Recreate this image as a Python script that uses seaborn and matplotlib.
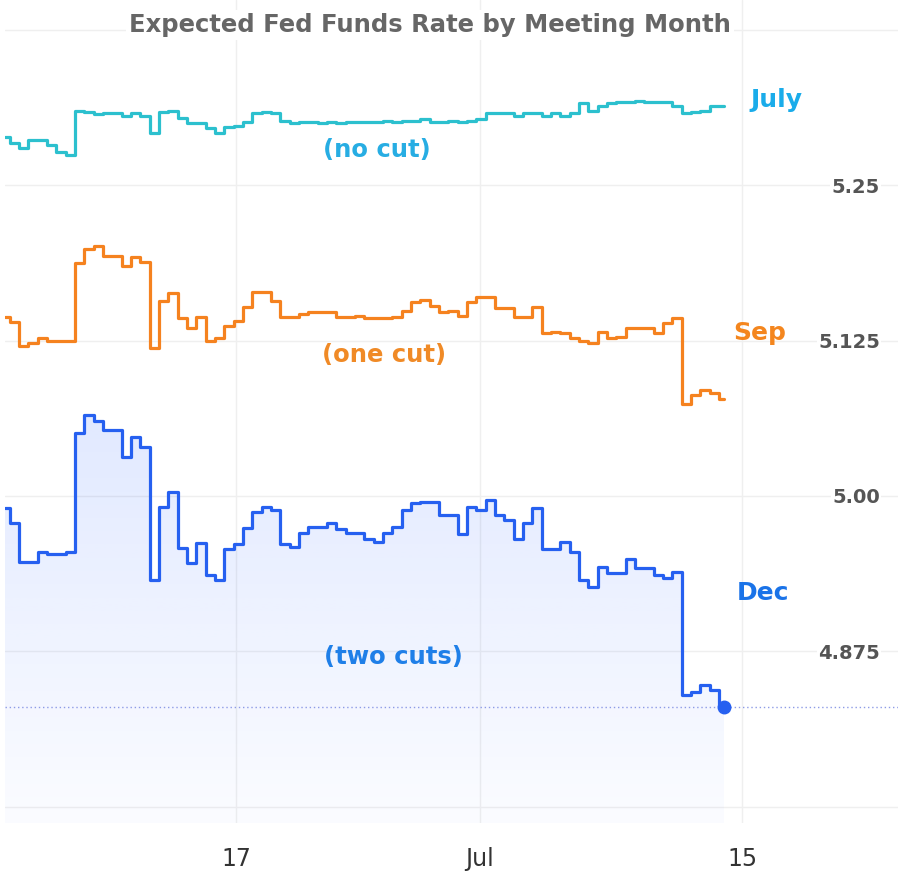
import numpy as np
import pandas as pd
import matplotlib
matplotlib.use("Agg")
import matplotlib.pyplot as plt
import seaborn as sns
from matplotlib.colors import LinearSegmentedColormap

# ---- data: implied rate, three readings per trading session, from Jun 5 ----
july = [5.289, 5.284, 5.280, 5.286, 5.286, 5.282, 5.277, 5.274, 5.310, 5.309,
        5.307, 5.308, 5.308, 5.306, 5.308, 5.306, 5.292, 5.309, 5.310, 5.304,
        5.300, 5.300, 5.296, 5.292, 5.297, 5.298, 5.301, 5.308, 5.309, 5.308,
        5.302, 5.300, 5.301, 5.301, 5.300, 5.301, 5.300, 5.301, 5.301, 5.301,
        5.301, 5.302, 5.301, 5.302, 5.302, 5.303, 5.301, 5.301, 5.302, 5.301,
        5.302, 5.303, 5.308, 5.308, 5.308, 5.306, 5.308, 5.308, 5.306, 5.308,
        5.306, 5.308, 5.316, 5.310, 5.314, 5.316, 5.317, 5.317, 5.318, 5.317,
        5.317, 5.317, 5.314, 5.308, 5.309, 5.310, 5.314, 5.314]
sep = [5.144, 5.140, 5.121, 5.123, 5.127, 5.125, 5.125, 5.125, 5.187, 5.199,
       5.201, 5.193, 5.193, 5.185, 5.192, 5.188, 5.119, 5.157, 5.163, 5.143,
       5.135, 5.144, 5.125, 5.127, 5.137, 5.141, 5.152, 5.164, 5.164, 5.157,
       5.144, 5.144, 5.146, 5.148, 5.148, 5.148, 5.144, 5.144, 5.145, 5.143,
       5.143, 5.143, 5.144, 5.149, 5.156, 5.158, 5.153, 5.148, 5.149, 5.145,
       5.156, 5.160, 5.160, 5.151, 5.151, 5.144, 5.144, 5.152, 5.131, 5.132,
       5.131, 5.127, 5.125, 5.123, 5.132, 5.127, 5.128, 5.135, 5.135, 5.135,
       5.131, 5.139, 5.143, 5.074, 5.081, 5.085, 5.083, 5.078]
dec = [4.990, 4.978, 4.947, 4.947, 4.955, 4.953, 4.953, 4.955, 5.051, 5.065,
       5.060, 5.053, 5.053, 5.031, 5.047, 5.039, 4.932, 4.991, 5.003, 4.958,
       4.946, 4.962, 4.936, 4.932, 4.957, 4.961, 4.974, 4.987, 4.991, 4.989,
       4.961, 4.959, 4.970, 4.975, 4.975, 4.978, 4.973, 4.970, 4.970, 4.965,
       4.963, 4.970, 4.975, 4.989, 4.994, 4.995, 4.995, 4.985, 4.985, 4.969,
       4.991, 4.989, 4.997, 4.985, 4.981, 4.965, 4.978, 4.990, 4.957, 4.957,
       4.963, 4.955, 4.932, 4.927, 4.943, 4.938, 4.938, 4.949, 4.942, 4.942,
       4.936, 4.934, 4.939, 4.840, 4.842, 4.848, 4.844, 4.830]

meetings = ["July", "Sep", "Dec"]
notes = ["(no cut)", "(one cut)", "(two cuts)"]
x_tick_pos = [8.25, 16.96, 26.32]          # trading-day positions
x_tick_labels = ["17", "Jul", "15"]
y_ticks = [4.75, 4.875, 5.0, 5.125, 5.25, 5.375]
y_tick_labels = ["", "4.875", "5.00", "5.125", "5.25", ""]
title = "Expected Fed Funds Rate by Meeting Month"

n = len(dec)
days = np.arange(n) / 3.0
df = pd.DataFrame({
    "day": np.concatenate([days, days, days]),
    "rate": np.concatenate([july, sep, dec]),
    "meeting": ["July"] * n + ["Sep"] * n + ["Dec"] * n,
})

line_colors = {"July": "#2CC0CE", "Sep": "#F5821F", "Dec": "#2660F0"}
label_colors = {"July": "#1AACEA", "Sep": "#F4861E", "Dec": "#1A73E8"}
note_colors = {"July": "#27ADE3", "Sep": "#F08A26", "Dec": "#1F7FE8"}

sns.set_theme(style="white")
plt.rcParams["font.family"] = ["DejaVu Sans"]

fig = plt.figure(figsize=(8.98, 8.81), dpi=100)
ax = fig.add_axes([5 / 898, 58 / 881, 893 / 898, 823 / 881])
ymin, ymax = 4.7368, 5.399
xmin, xmax = 0.0, 31.89

# gradient fill under Dec
poly = ax.fill_between(days, dec, ymin, step="mid", facecolor="none", edgecolor="none")
cmap = LinearSegmentedColormap.from_list(
    "fade", [(41 / 255, 98 / 255, 1.0, 0.02), (41 / 255, 98 / 255, 1.0, 0.14)])
grad = np.linspace(0, 1, 256).reshape(-1, 1)
img = ax.imshow(grad, extent=[days[0] - 1 / 6, days[-1], ymin, max(dec)],
                origin="lower", aspect="auto", cmap=cmap, zorder=1)
img.set_clip_path(poly.get_paths()[0], transform=ax.transData)

sns.lineplot(data=df, x="day", y="rate", hue="meeting", hue_order=meetings,
             palette=line_colors, legend=False, drawstyle="steps-mid",
             linewidth=2.3, ax=ax, zorder=3)

ax.axhline(dec[-1], color="#8d9be6", ls=(0, (1, 2)), lw=1.0, zorder=2)
ax.plot(days[-1], dec[-1], "o", color=line_colors["Dec"], ms=9, zorder=4)

ax.set_xlim(xmin, xmax)
ax.set_ylim(ymin, ymax)
for s in ax.spines.values():
    s.set_visible(False)

ax.set_xticks(x_tick_pos)
ax.set_xticklabels(x_tick_labels, fontsize=17, color="#333333")
ax.set_yticks(y_ticks)
ax.set_yticklabels(y_tick_labels, fontsize=14, color="#555555", fontweight="bold")
ax.yaxis.tick_right()
ax.tick_params(axis="y", length=0, pad=-13)
ax.tick_params(axis="x", length=0, pad=17)
for lbl in ax.get_yticklabels():
    lbl.set_horizontalalignment("right")
    lbl.set_bbox(dict(facecolor="white", edgecolor="none", pad=1))
ax.grid(True, color="#efefef", lw=1.0)
ax.set_axisbelow(True)
ax.set_xlabel("")
ax.set_ylabel("")


def axpos(px, py):
    return ((px - 5) / 893, (823 - py) / 823)


ax.text(*axpos(430, 25), title, transform=ax.transAxes, ha="center", va="center",
        fontsize=17.5, fontweight="bold", color="#666666",
        bbox=dict(facecolor="white", edgecolor="none", pad=2), zorder=5)

lab_pos = {"July": (750, 100), "Sep": (733, 333), "Dec": (737, 593)}
note_pos = {"July": (377, 150), "Sep": (384, 355), "Dec": (393, 657)}
for m, note in zip(meetings, notes):
    ax.text(*axpos(*lab_pos[m]), m, transform=ax.transAxes, ha="left", va="center",
            fontsize=18, fontweight="bold", color=label_colors[m], zorder=5)
    ax.text(*axpos(*note_pos[m]), note, transform=ax.transAxes, ha="center",
            va="center", fontsize=17.5, fontweight="bold", color=note_colors[m],
            zorder=5)

fig.savefig("out.png", dpi=100, facecolor="white")
